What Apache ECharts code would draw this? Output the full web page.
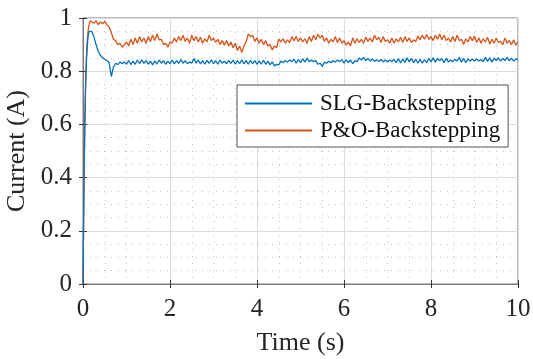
<!DOCTYPE html>
<html>
<head>
<meta charset="utf-8">
<script src="https://cdn.jsdelivr.net/npm/echarts@6/dist/echarts.min.js"></script>
<style>
  html, body { margin: 0; padding: 0; background: #fff; }
  #chart { width: 533px; height: 359px; }
</style>
</head>
<body>
<div id="chart"></div>
<script>
// 启动段采样时刻 (s)
const headTime = [0, 0.02, 0.04, 0.06, 0.08, 0.10, 0.12, 0.14, 0.17, 0.20];
// 之后每 0.05 s 一个点, 0.25 ~ 10.00
const stepStart = 0.25;
const stepSize = 0.05;

const xTicks = [0, 2, 4, 6, 8, 10];
const yTicks = [0, 0.2, 0.4, 0.6, 0.8, 1];

// SLG-Backstepping 电流
const slgHead = [0, 0.33, 0.58, 0.74, 0.84, 0.90, 0.935, 0.95, 0.955, 0.95];
const slgValues = [
  0.93, 0.9, 0.875, 0.86, 0.85, 0.845, 0.84, 0.832, 0.78, 0.815, 0.83, 0.825, 0.835, 0.828, 0.835,
  0.826, 0.84, 0.825, 0.838, 0.826, 0.842, 0.828, 0.843, 0.829, 0.84, 0.826, 0.838, 0.824, 0.839, 0.827, 0.842, 0.83, 0.84, 0.826, 0.838,
  0.828, 0.842, 0.827, 0.84, 0.829, 0.844, 0.83, 0.84, 0.828, 0.835, 0.83, 0.848, 0.83, 0.842, 0.827, 0.84, 0.826, 0.841, 0.829, 0.843,
  0.828, 0.84, 0.826, 0.842, 0.83, 0.838, 0.828, 0.84, 0.829, 0.842, 0.826, 0.84, 0.828, 0.843, 0.827, 0.84, 0.826, 0.841, 0.828, 0.84,
  0.826, 0.839, 0.827, 0.841, 0.826, 0.838, 0.824, 0.835, 0.82, 0.826, 0.824, 0.838, 0.832, 0.84, 0.834, 0.842, 0.836, 0.845, 0.83, 0.844,
  0.832, 0.847, 0.834, 0.849, 0.836, 0.842, 0.836, 0.84, 0.826, 0.83, 0.818, 0.834, 0.83, 0.837, 0.832, 0.84, 0.834, 0.842, 0.836, 0.843,
  0.83, 0.844, 0.832, 0.842, 0.828, 0.84, 0.836, 0.85, 0.842, 0.852, 0.84, 0.848, 0.838, 0.846, 0.837, 0.843, 0.836, 0.844, 0.835, 0.842,
  0.834, 0.842, 0.836, 0.845, 0.832, 0.848, 0.831, 0.846, 0.833, 0.85, 0.835, 0.848, 0.832, 0.846, 0.83, 0.845, 0.83, 0.844, 0.832, 0.848,
  0.835, 0.85, 0.834, 0.848, 0.84, 0.847, 0.832, 0.849, 0.834, 0.842, 0.836, 0.844, 0.838, 0.852, 0.834, 0.848, 0.832, 0.847, 0.838, 0.846,
  0.838, 0.846, 0.838, 0.844, 0.836, 0.852, 0.837, 0.85, 0.834, 0.849, 0.84, 0.85, 0.838, 0.848, 0.84, 0.852, 0.839, 0.849, 0.838, 0.846,
  0.845
];

// P&O-Backstepping 电流
const poHead = [0, 0.35, 0.60, 0.76, 0.86, 0.92, 0.955, 0.975, 0.99, 0.985];
const poValues = [
  0.98, 0.99, 0.975, 0.985, 0.978, 0.988, 0.975, 0.965, 0.945, 0.92, 0.915, 0.9, 0.905, 0.89, 0.9,
  0.91, 0.895, 0.92, 0.9, 0.925, 0.905, 0.93, 0.91, 0.925, 0.905, 0.93, 0.912, 0.935, 0.915, 0.94, 0.918, 0.92, 0.9, 0.905, 0.89,
  0.91, 0.905, 0.925, 0.91, 0.93, 0.915, 0.935, 0.912, 0.925, 0.905, 0.935, 0.915, 0.93, 0.91, 0.928, 0.905, 0.922, 0.91, 0.935, 0.915,
  0.925, 0.908, 0.92, 0.9, 0.915, 0.898, 0.915, 0.895, 0.91, 0.888, 0.905, 0.878, 0.895, 0.87, 0.895, 0.91, 0.94, 0.93, 0.935, 0.912,
  0.925, 0.905, 0.92, 0.9, 0.915, 0.895, 0.9, 0.88, 0.895, 0.888, 0.92, 0.91, 0.922, 0.905, 0.918, 0.908, 0.93, 0.915, 0.93, 0.912,
  0.925, 0.91, 0.922, 0.905, 0.93, 0.912, 0.935, 0.918, 0.94, 0.925, 0.935, 0.912, 0.925, 0.905, 0.92, 0.91, 0.93, 0.908, 0.925, 0.905,
  0.915, 0.898, 0.91, 0.895, 0.925, 0.905, 0.922, 0.908, 0.92, 0.905, 0.928, 0.912, 0.925, 0.91, 0.935, 0.918, 0.928, 0.908, 0.93, 0.912,
  0.918, 0.905, 0.925, 0.905, 0.922, 0.91, 0.928, 0.908, 0.93, 0.912, 0.925, 0.908, 0.918, 0.912, 0.932, 0.918, 0.935, 0.92, 0.938, 0.92,
  0.93, 0.915, 0.935, 0.92, 0.94, 0.918, 0.935, 0.915, 0.925, 0.91, 0.93, 0.912, 0.935, 0.915, 0.92, 0.9, 0.922, 0.91, 0.93, 0.915,
  0.932, 0.908, 0.925, 0.905, 0.922, 0.91, 0.928, 0.902, 0.92, 0.905, 0.925, 0.908, 0.912, 0.9, 0.925, 0.905, 0.915, 0.9, 0.918, 0.898,
  0.91
];

const FONT = '"Liberation Serif", "Times New Roman", serif';
const TEXT_COLOR = '#262626';
const BOX_COLOR = '#7a7a7a';

// 拼成 [t, v]
function toPairs(head, values) {
  const out = [];
  head.forEach((v, i) => out.push([headTime[i], v]));
  values.forEach((v, i) => {
    const t = +(stepStart + i * stepSize).toFixed(2);
    out.push([t, v]);
  });
  return out;
}

const baseX = {
  type: 'value',
  min: xTicks[0],
  max: xTicks[xTicks.length - 1],
  interval: xTicks[1] - xTicks[0]
};
const baseY = {
  type: 'value',
  min: yTicks[0],
  max: yTicks[yTicks.length - 1],
  interval: yTicks[1] - yTicks[0]
};

const chart = echarts.init(document.getElementById('chart'), null, { renderer: 'canvas' });

chart.setOption({
  animation: false,
  backgroundColor: '#fff',
  textStyle: { fontFamily: FONT },
  grid: {
    left: 83, right: 15, top: 18, bottom: 75,
    containLabel: false,
    outerBoundsMode: 'none',
    show: true, borderColor: BOX_COLOR, borderWidth: 1, backgroundColor: 'transparent'
  },
  legend: {
    orient: 'vertical',
    left: 237, top: 85,
    padding: [7, 8, 5, 8],
    itemGap: 4,
    itemWidth: 67,
    itemHeight: 2,
    icon: 'rect',
    backgroundColor: '#fff',
    borderColor: '#555',
    borderWidth: 1,
    textStyle: { fontFamily: FONT, fontSize: 23, color: '#111', padding: [0, 0, 0, 3] },
    data: ['SLG-Backstepping', 'P&O-Backstepping']
  },
  xAxis: [
    Object.assign({}, baseX, {
      position: 'bottom',
      name: 'Time (s)',
      nameLocation: 'middle',
      nameGap: 46,
      nameTextStyle: { fontFamily: FONT, fontSize: 26, color: TEXT_COLOR },
      axisLine: { show: true, lineStyle: { color: BOX_COLOR } },
      axisTick: { show: true, inside: true, length: 4, lineStyle: { color: '#333' } },
      axisLabel: { fontFamily: FONT, fontSize: 25, color: TEXT_COLOR, margin: 13 },
      splitLine: { show: true, lineStyle: { color: '#dcdcdc', width: 1 } },
      minorTick: { show: false, splitNumber: 4 },
      minorSplitLine: { show: true, lineStyle: { color: '#c4c4c4', width: 1, type: [1, 6] } }
    }),
    Object.assign({}, baseX, {
      position: 'top',
      axisLine: { show: true, lineStyle: { color: BOX_COLOR } },
      axisTick: { show: true, inside: true, length: 4, lineStyle: { color: '#333' } },
      axisLabel: { show: false },
      splitLine: { show: false }
    })
  ],
  yAxis: [
    Object.assign({}, baseY, {
      position: 'left',
      name: 'Current (A)',
      nameLocation: 'middle',
      nameGap: 52,
      nameTextStyle: { fontFamily: FONT, fontSize: 26, color: TEXT_COLOR },
      axisLine: { show: true, lineStyle: { color: BOX_COLOR } },
      axisTick: { show: true, inside: true, length: 4, lineStyle: { color: '#333' } },
      axisLabel: { fontFamily: FONT, fontSize: 25, color: TEXT_COLOR, margin: 11 },
      splitLine: { show: true, lineStyle: { color: '#dcdcdc', width: 1 } },
      minorTick: { show: false, splitNumber: 4 },
      minorSplitLine: { show: true, lineStyle: { color: '#c4c4c4', width: 1, type: [1, 6] } }
    }),
    Object.assign({}, baseY, {
      position: 'right',
      axisLine: { show: true, lineStyle: { color: BOX_COLOR } },
      axisTick: { show: true, inside: true, length: 4, lineStyle: { color: '#333' } },
      axisLabel: { show: false },
      splitLine: { show: false }
    })
  ],
  series: [
    {
      name: 'SLG-Backstepping',
      type: 'line',
      symbol: 'none',
      xAxisIndex: 0, yAxisIndex: 0,
      lineStyle: { color: '#0072BD', width: 1.3 },
      itemStyle: { color: '#0072BD' },
      data: toPairs(slgHead, slgValues),
      z: 3
    },
    {
      name: 'P&O-Backstepping',
      type: 'line',
      symbol: 'none',
      xAxisIndex: 0, yAxisIndex: 0,
      lineStyle: { color: '#D95319', width: 1.3 },
      itemStyle: { color: '#D95319' },
      data: toPairs(poHead, poValues),
      z: 2
    }
  ]
});
</script>
</body>
</html>
